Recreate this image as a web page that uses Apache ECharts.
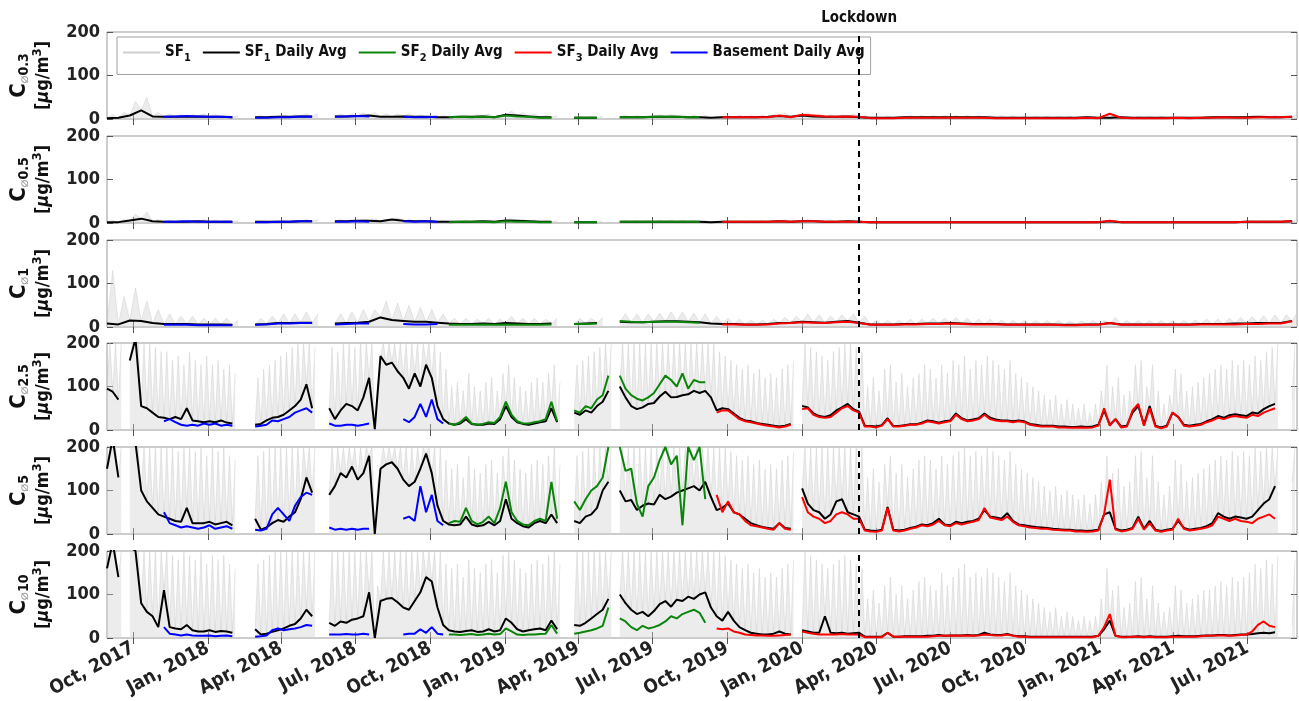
<!DOCTYPE html>
<html>
<head>
<meta charset="utf-8">
<script src="https://cdn.jsdelivr.net/npm/echarts@6/dist/echarts.min.js"></script>
<style>
  html, body { margin: 0; padding: 0; background: #fff; }
  #chart { width: 1299px; height: 701px; }
</style>
</head>
<body>
<div id="chart"></div>
<script>
const DAY = 864e5;
const START = Date.UTC(2017, 7, 30);
const X_MIN = Date.UTC(2017, 7, 30);
const X_MAX = Date.UTC(2021, 7, 31);
const LOCKDOWN = Date.parse('2020-03-11');
const FONT = '"Liberation Sans Narrow", "DejaVu Sans Condensed", "Roboto Condensed", sans-serif';

const tickDates = ['2017-10-01', '2018-01-01', '2018-04-01', '2018-07-01', '2018-10-01',
  '2019-01-01', '2019-04-01', '2019-07-01', '2019-10-01', '2020-01-01', '2020-04-01',
  '2020-07-01', '2020-10-01', '2021-01-01', '2021-04-01', '2021-07-01'];
const tickLabels = ['Oct, 2017', 'Jan, 2018', 'Apr, 2018', 'Jul, 2018', 'Oct, 2018',
  'Jan, 2019', 'Apr, 2019', 'Jul, 2019', 'Oct, 2019', 'Jan, 2020', 'Apr, 2020',
  'Jul, 2020', 'Oct, 2020', 'Jan, 2021', 'Apr, 2021', 'Jul, 2021'];

const sizes = ['0.3', '0.5', '1', '2.5', '5', '10'];
const legendNames = ['SF1', 'SF1 Daily Avg', 'SF2 Daily Avg', 'SF3 Daily Avg', 'Basement Daily Avg'];

// ---- panels 1-3: one value every two weeks ----
// first index of each station (in steps)
const BI_FIRST = { black: 0, blue: 5, green: 30, red: 54 };

const black03 = [
  2, 3, 8, 20, 6, 5, 5, 5, 6, 5,
  5, 4, null, 4, 4, 5, 5, 6, 6, null,
  6, 6, 7, 8, 5, 5, 6, 5, 5, 4,
  4, 5, 5, 6, 4, 10, 8, 6, 4, 4,
  null, 3, 3, 3, null, 4, 4, 4, 5, 5,
  5, 4, 4, 3, 4, 4, 4, 4, 5, 7,
  5, 8, 6, 5, 5, 6, 4, 3, 3, 3,
  4, 4, 4, 4, 4, 4, 4, 4, 3, 3,
  3, 3, 3, 3, 3, 3, 4, 3, 3, 4,
  3, 3, 3, 3, 3, 3, 3, 4, 4, 4,
  4, 5, 4, 4, 5];
const gray03 = [
  10, 15, 40, 50, 15, 12, 10, 10, 12, 10,
  10, 8, null, 8, 8, 10, 10, 12, 12, null,
  12, 12, 14, 15, 12, 12, 12, 10, 10, 8,
  8, 10, 10, 12, 8, 18, 15, 12, 8, 8,
  null, 6, 6, 6, null, 8, 8, 8, 10, 10,
  10, 8, 8, 6, 8, 8, 8, 8, 10, 14,
  10, 15, 12, 10, 10, 12, 8, 6, 6, 6,
  8, 8, 8, 8, 8, 8, 8, 8, 8, 8,
  6, 6, 6, 6, 6, 6, 6, 6, 6, 6,
  6, 6, 6, 6, 6, 6, 6, 6, 6, 6,
  8, 10, 8, 8, 10];
const blue03 = [5, 6, 7, 6, 5,
  5, 4, null, 3, 3, 4, 4, 6, 5, null,
  5, 6, 7, 6, null, null, 5, 4, 4, 5];
const green03 = [4, 5, 4, 6, 4, 8, 6, 5, 3, 3,
  null, 3, 3, 3, null, 4, 4, 4, 5, 5,
  5, 4, 4];
const red03 = [
  4, 4, 4, 4, 4, 8, 4, 10, 8, 6,
  5, 6, 5, 2, 2, 2, 3, 3, 3, 3,
  3, 3, 3, 3, 2, 2, 2, 2, 2, 2,
  2, 2, 3, 2, 12, 3, 2, 2, 2, 2,
  3, 2, 3, 3, 4, 3, 3, 4, 4, 4,
  5];

const black05 = [
  2, 2, 6, 10, 4, 3, 3, 3, 4, 3,
  3, 3, null, 3, 3, 3, 3, 4, 4, null,
  4, 4, 5, 5, 4, 8, 5, 4, 4, 3,
  3, 3, 3, 4, 3, 6, 5, 4, 3, 3,
  null, 2, 2, 2, null, 3, 3, 3, 3, 3,
  3, 3, 3, 2, 3, 3, 3, 3, 3, 4,
  3, 4, 4, 3, 3, 4, 3, 2, 2, 2,
  2, 2, 2, 2, 2, 2, 2, 2, 2, 2,
  2, 2, 2, 2, 2, 2, 2, 2, 4, 2,
  2, 2, 2, 2, 2, 2, 2, 2, 2, 2,
  3, 3, 3, 3, 4];
const gray05 = [
  6, 8, 20, 25, 8, 6, 6, 6, 8, 6,
  6, 5, null, 5, 5, 6, 6, 8, 8, null,
  8, 8, 9, 10, 8, 12, 8, 7, 7, 6,
  5, 6, 6, 7, 5, 10, 8, 7, 5, 5,
  null, 4, 4, 4, null, 5, 5, 5, 6, 6,
  6, 5, 5, 4, 5, 5, 5, 5, 6, 8,
  6, 8, 7, 6, 6, 7, 5, 4, 4, 4,
  4, 4, 4, 4, 4, 4, 4, 4, 4, 4,
  4, 4, 4, 4, 4, 4, 4, 4, 4, 4,
  4, 4, 4, 4, 4, 4, 4, 4, 4, 4,
  5, 5, 5, 5, 6];
const blue05 = [3, 3, 4, 3, 3,
  3, 3, null, 2, 2, 3, 3, 4, 4, null,
  3, 3, 4, 3, null, null, 4, 3, 4, 3];
const green05 = [2, 3, 3, 3, 2, 4, 3, 3, 2, 2,
  null, 2, 2, 2, null, 3, 3, 3, 3, 3,
  3, 3, 3];
const red05 = [
  3, 3, 3, 3, 3, 4, 3, 4, 4, 3,
  3, 3, 3, 2, 2, 2, 2, 2, 2, 2,
  2, 2, 2, 2, 2, 2, 2, 2, 2, 2,
  2, 2, 2, 2, 5, 2, 2, 2, 2, 2,
  2, 2, 2, 2, 2, 2, 3, 3, 3, 3,
  4];

const black1 = [
  8, 6, 15, 14, 9, 7, 7, 7, 6, 6,
  6, 5, null, 6, 7, 9, 9, 10, 10, null,
  8, 9, 10, 12, 22, 16, 14, 12, 12, 10,
  8, 7, 7, 8, 7, 9, 8, 7, 7, 8,
  null, 7, 8, 9, null, 12, 11, 11, 12, 13,
  13, 12, 11, 8, 7, 7, 6, 6, 7, 9,
  10, 12, 11, 10, 12, 14, 10, 6, 6, 6,
  7, 7, 8, 8, 9, 8, 7, 7, 7, 6,
  6, 6, 6, 6, 5, 5, 6, 6, 9, 6,
  6, 6, 6, 6, 6, 6, 7, 7, 7, 8,
  8, 9, 9, 9, 14];
const gray1 = [
  130, 70, 90, 60, 40, 30, 25, 25, 20, 20,
  20, 15, null, 20, 25, 30, 30, 35, 30, null,
  30, 35, 40, 40, 60, 55, 50, 45, 40, 30,
  20, 20, 18, 20, 18, 25, 20, 20, 18, 20,
  null, 20, 20, 22, null, 30, 30, 30, 32, 35,
  35, 32, 30, 25, 20, 18, 16, 16, 18, 22,
  25, 30, 28, 25, 28, 30, 25, 15, 15, 15,
  18, 18, 20, 20, 22, 20, 18, 18, 16, 15,
  15, 15, 15, 15, 14, 14, 15, 15, 22, 15,
  15, 15, 15, 15, 15, 16, 18, 18, 20, 22,
  24, 26, 28, 28, 35];
const blue1 = [5, 5, 5, 4, 4,
  4, 4, null, 5, 6, 8, 8, 9, 9, null,
  6, 7, 8, 8, null, null, 7, 6, 6, 7];
const green1 = [5, 5, 5, 6, 5, 6, 5, 5, 5, 6,
  null, 7, 7, 8, null, 14, 12, 11, 12, 12,
  12, 11, 10];
const red1 = [
  6, 6, 5, 5, 6, 8, 9, 11, 10, 9,
  11, 12, 9, 5, 5, 5, 6, 6, 7, 7,
  8, 7, 6, 6, 6, 5, 5, 5, 5, 5,
  4, 4, 5, 5, 9, 5, 5, 5, 5, 5,
  5, 5, 6, 6, 6, 6, 7, 7, 8, 8,
  13];

// ---- panels 4-6: one value per week ----
const WK_FIRST = { black: 0, blue: 10, green: 60, red: 107 };

const black25 = [
  95, 88, 70, null, 160, 210, 55, 50, 40, 30,
  28, 25, 30, 25, 50, 22, 20, 18, 20, 18,
  22, 17, 15, null, null, null, 12, 14, 22, 28,
  30, 35, 45, 55, 70, 105, 50, null, null, 50,
  25, 45, 60, 55, 45, 75, 120, 2, 170, 150,
  155, 135, 120, 95, 130, 100, 150, 120, 55, 25,
  15, 12, 15, 25, 14, 12, 12, 15, 14, 25,
  55, 30, 18, 14, 12, 15, 18, 20, 50, 18,
  null, null, 40, 35, 45, 40, 55, 65, 90, null,
  100, 75, 55, 48, 52, 60, 62, 77, 88, 75,
  76, 80, 82, 90, 85, 90, 75, 45, 50, 48,
  38, 28, 22, 20, 16, 14, 12, 10, 8, 10,
  14, null, 55, 52, 38, 32, 30, 34, 45, 52,
  60, 48, 42, 10, 9, 8, 11, 27, 9, 9,
  11, 13, 13, 17, 22, 20, 17, 20, 22, 38,
  27, 22, 24, 27, 38, 28, 24, 22, 22, 20,
  22, 20, 14, 12, 10, 10, 10, 8, 8, 7,
  7, 8, 7, 8, 12, 45, 12, 25, 8, 10,
  40, 55, 12, 55, 10, 6, 10, 40, 30, 12,
  10, 12, 14, 20, 25, 32, 28, 34, 36, 34,
  32, 40, 38, 48, 55, 60, null, null, 70];
const gray25 = [
  200, 200, 200, null, 200, 200, 200, 200, 190, 180,
  180, 160, 170, 150, 180, 160, 150, 170, 150, 160,
  140, 150, 130, null, null, null, 120, 140, 150, 160,
  170, 180, 190, 200, 200, 200, 190, null, null, 190,
  180, 200, 200, 190, 200, 200, 200, 100, 200, 200,
  200, 200, 200, 200, 200, 200, 200, 200, 180, 140,
  100, 110, 90, 130, 100, 90, 110, 120, 90, 130,
  150, 120, 100, 90, 110, 120, 110, 130, 150, 110,
  null, null, 150, 160, 170, 180, 190, 200, 200, null,
  200, 200, 200, 200, 200, 200, 200, 200, 200, 200,
  200, 200, 200, 200, 200, 200, 200, 180, 170, 160,
  150, 140, 150, 130, 140, 120, 130, 120, 140, 150,
  160, null, 200, 190, 180, 170, 160, 180, 190, 200,
  200, 190, 180, 100, 120, 90, 140, 150, 110, 130,
  100, 120, 130, 150, 140, 120, 150, 130, 160, 150,
  170, 140, 160, 150, 170, 160, 150, 140, 160, 130,
  120, 110, 100, 90, 80, 70, 80, 60, 70, 60,
  50, 60, 40, 60, 90, 150, 100, 120, 80, 90,
  150, 160, 100, 150, 90, 60, 80, 140, 130, 90,
  100, 110, 120, 130, 140, 150, 140, 160, 150, 160,
  150, 170, 160, 180, 190, 200, null, null, 200];
const blue25 = [
  20, 25, 18, 12, 10, 12, 10, 15, 12, 15,
  10, 12, 10, null, null, null, 8, 10, 12, 22,
  20, 25, 30, 40, 45, 50, 40, null, null, 15,
  10, 10, 12, 12, 10, 12, 15, null, null, null,
  null, null, 25, 18, 30, 60, 30, 70, 25, 15];
const green25 = [
  15, 12, 18, 30, 15, 12, 14, 18, 16, 30,
  65, 35, 20, 15, 15, 18, 20, 25, 65, 20,
  null, null, 45, 40, 55, 50, 70, 80, 125, null,
  125, 95, 80, 72, 68, 75, 85, 105, 125, 115,
  100, 130, 95, 115, 110, 110];
const red25 = [
  40, 45, 45, 35, 25, 20, 18, 15, 12, 10,
  8, 6, 8, 12, null, 48, 50, 35, 30, 28,
  30, 40, 50, 55, 45, 40, 8, 8, 6, 10,
  25, 8, 8, 10, 12, 12, 15, 20, 18, 15,
  18, 20, 35, 25, 20, 22, 25, 35, 25, 22,
  20, 20, 18, 20, 18, 12, 10, 8, 8, 8,
  6, 6, 5, 5, 6, 5, 6, 10, 50, 10,
  25, 6, 8, 45, 60, 10, 50, 8, 4, 8,
  40, 30, 10, 8, 10, 12, 18, 22, 28, 25,
  30, 32, 30, 28, 35, 32, 40, 45, 50, null,
  null, 80];

const black5 = [
  150, 220, 130, null, 220, 210, 100, 75, 60, 45,
  40, 35, 30, 28, 60, 25, 25, 25, 28, 22,
  25, 28, 20, null, null, null, 35, 10, 15, 25,
  32, 28, 40, 50, 80, 130, 95, null, null, 90,
  110, 140, 130, 155, 125, 140, 180, 0, 150, 160,
  165, 150, 125, 110, 120, 150, 185, 140, 65, 30,
  22, 20, 22, 40, 22, 18, 20, 28, 20, 30,
  80, 35, 25, 18, 15, 25, 30, 25, 45, 25,
  null, null, 30, 25, 40, 45, 60, 100, 120, null,
  100, 75, 78, 55, 65, 70, 68, 90, 80, 86,
  95, 100, 105, 110, 100, 120, 85, 55, 60, 70,
  50, 45, 35, 25, 20, 16, 14, 12, 25, 14,
  12, null, 105, 70, 55, 50, 35, 45, 75, 80,
  50, 45, 40, 10, 8, 7, 10, 62, 10, 8,
  10, 14, 17, 22, 20, 25, 35, 22, 20, 28,
  25, 28, 30, 35, 55, 40, 38, 35, 48, 30,
  22, 20, 18, 16, 15, 14, 12, 11, 10, 10,
  8, 8, 7, 8, 10, 45, 50, 12, 8, 10,
  14, 40, 12, 30, 10, 7, 10, 12, 30, 14,
  10, 12, 14, 18, 25, 48, 40, 35, 40, 38,
  35, 40, 55, 70, 80, 110, null, null, 120];
const gray5 = [
  200, 200, 200, null, 200, 200, 200, 200, 200, 200,
  200, 200, 190, 200, 200, 190, 200, 180, 200, 190,
  200, 180, 170, null, null, null, 180, 190, 200, 200,
  200, 200, 200, 200, 200, 200, 200, null, null, 200,
  200, 200, 200, 200, 200, 200, 200, 120, 200, 200,
  200, 200, 200, 200, 200, 200, 200, 200, 200, 170,
  150, 160, 130, 180, 150, 140, 160, 170, 140, 180,
  200, 170, 150, 140, 160, 170, 160, 180, 200, 160,
  null, null, 180, 190, 200, 200, 200, 200, 200, null,
  200, 200, 200, 200, 200, 200, 200, 200, 200, 200,
  200, 200, 200, 200, 200, 200, 200, 200, 200, 190,
  180, 170, 180, 160, 170, 150, 160, 150, 170, 180,
  190, null, 200, 200, 200, 200, 200, 200, 200, 200,
  200, 200, 200, 130, 150, 120, 160, 180, 140, 160,
  130, 150, 170, 180, 170, 150, 180, 160, 180, 190,
  200, 180, 190, 180, 200, 190, 180, 170, 190, 160,
  150, 140, 130, 120, 110, 100, 110, 90, 100, 90,
  80, 90, 70, 90, 120, 180, 140, 150, 110, 120,
  180, 190, 130, 180, 120, 90, 110, 170, 160, 120,
  130, 140, 150, 160, 170, 180, 170, 190, 180, 190,
  180, 200, 190, 200, 200, 200, null, null, 200];
const blue5 = [
  50, 25, 20, 15, 18, 15, 12, 15, 20, 12,
  15, 18, 12, null, null, null, 10, 8, 12, 45,
  60, 45, 30, 65, 85, 95, 90, null, null, 15,
  10, 12, 10, 12, 10, 12, 12, null, null, null,
  null, null, 35, 40, 30, 110, 50, 90, 30, 20];
const green5 = [
  25, 30, 28, 60, 30, 22, 28, 40, 25, 60,
  120, 50, 30, 22, 20, 30, 35, 30, 120, 35,
  null, null, 75, 55, 80, 100, 110, 130, 200, null,
  200, 145, 150, 70, 40, 110, 130, 170, 200, 160,
  180, 20, 200, 170, 200, 80];
const red5 = [
  90, 50, 75, 50, 45, 30, 20, 18, 15, 12,
  10, 25, 12, 10, null, 85, 50, 40, 35, 25,
  30, 45, 50, 45, 35, 35, 8, 6, 5, 8,
  60, 8, 6, 8, 12, 15, 20, 18, 22, 30,
  20, 18, 25, 22, 25, 28, 32, 60, 38, 35,
  32, 40, 28, 20, 18, 15, 14, 12, 12, 10,
  9, 8, 8, 6, 6, 5, 6, 8, 45, 125,
  10, 6, 8, 12, 35, 10, 25, 8, 5, 8,
  10, 35, 12, 8, 10, 12, 15, 20, 40, 35,
  30, 35, 30, 28, 25, 35, 40, 45, 35, null,
  null, 150];

const black10 = [
  160, 220, 140, null, 210, 200, 80, 60, 50, 25,
  110, 25, 22, 20, 30, 18, 15, 15, 18, 14,
  16, 15, 12, null, null, null, 20, 8, 10, 14,
  18, 22, 28, 32, 45, 65, 50, null, null, 35,
  28, 38, 35, 42, 45, 50, 105, 0, 85, 90,
  92, 82, 70, 65, 85, 105, 140, 130, 70, 30,
  18, 15, 14, 16, 18, 14, 15, 20, 15, 18,
  45, 35, 20, 15, 18, 20, 22, 18, 40, 20,
  null, null, 30, 28, 35, 45, 55, 65, 90, null,
  100, 80, 65, 55, 60, 50, 62, 78, 85, 72,
  88, 85, 95, 90, 100, 105, 70, 50, 40, 60,
  40, 25, 18, 12, 10, 8, 8, 10, 15, 10,
  8, null, 18, 15, 12, 12, 50, 12, 11, 12,
  10, 11, 12, 3, 3, 3, 3, 12, 3, 3,
  4, 4, 4, 4, 5, 5, 7, 5, 6, 6,
  6, 7, 6, 7, 12, 8, 7, 7, 9, 6,
  4, 4, 3, 3, 3, 3, 3, 3, 3, 3,
  3, 3, 3, 3, 5, 20, 40, 5, 3, 3,
  3, 4, 3, 4, 3, 3, 3, 4, 5, 4,
  4, 4, 5, 6, 6, 7, 7, 6, 7, 8,
  8, 9, 11, 12, 11, 13, null, null, 30];
const gray10 = [
  200, 200, 200, null, 200, 200, 200, 200, 200, 200,
  200, 190, 180, 200, 190, 180, 200, 170, 190, 180,
  190, 170, 160, null, null, null, 170, 180, 190, 200,
  200, 200, 200, 200, 200, 200, 200, null, null, 200,
  200, 200, 200, 200, 200, 200, 200, 120, 200, 200,
  200, 200, 200, 200, 200, 200, 200, 200, 200, 170,
  160, 170, 140, 180, 160, 150, 170, 180, 150, 190,
  200, 180, 160, 150, 170, 180, 170, 190, 200, 170,
  null, null, 200, 200, 200, 200, 200, 200, 200, null,
  200, 200, 200, 200, 200, 200, 200, 200, 200, 200,
  200, 200, 200, 200, 200, 200, 200, 200, 190, 180,
  170, 160, 170, 150, 160, 140, 150, 140, 160, 170,
  180, null, 200, 190, 180, 170, 160, 170, 180, 190,
  180, 170, 160, 90, 110, 80, 120, 140, 100, 120,
  90, 110, 130, 140, 120, 110, 150, 120, 140, 160,
  170, 140, 150, 140, 160, 150, 140, 130, 150, 120,
  110, 100, 90, 80, 70, 60, 70, 50, 60, 50,
  40, 50, 40, 50, 90, 160, 110, 120, 70, 80,
  130, 140, 90, 120, 80, 60, 70, 120, 110, 80,
  90, 100, 110, 110, 120, 130, 120, 140, 130, 140,
  150, 170, 160, 180, 170, 190, null, null, 180];
const blue10 = [
  25, 10, 8, 6, 8, 6, 5, 5, 6, 4,
  5, 6, 4, null, null, null, 3, 4, 6, 18,
  22, 18, 20, 22, 25, 30, 28, null, null, 8,
  8, 8, 9, 8, 8, 10, 8, null, null, null,
  null, null, 8, 10, 10, 20, 12, 25, 10, 8];
const green10 = [
  8, 8, 7, 8, 9, 7, 8, 10, 8, 9,
  22, 15, 8, 7, 8, 8, 9, 10, 30, 10,
  null, null, 10, 12, 15, 18, 22, 28, 70, null,
  45, 38, 25, 18, 28, 22, 25, 30, 38, 50,
  45, 55, 60, 65, 58, 35];
const red10 = [
  22, 20, 22, 15, 12, 8, 7, 6, 6, 5,
  5, 6, 7, 8, null, 15, 12, 10, 8, 8,
  8, 8, 9, 8, 8, 8, 2, 2, 2, 2,
  12, 3, 3, 3, 3, 3, 3, 3, 4, 5,
  5, 5, 6, 5, 6, 5, 6, 8, 7, 6,
  6, 8, 5, 3, 3, 2, 2, 2, 2, 2,
  2, 2, 2, 2, 2, 2, 2, 5, 25, 55,
  5, 2, 2, 3, 3, 2, 3, 2, 2, 2,
  3, 3, 3, 3, 3, 4, 5, 5, 6, 6,
  5, 6, 7, 8, 15, 30, 38, 28, 25, null,
  null, 30];

const panels = [
  { step: 14, first: BI_FIRST, gray: gray03, black: black03, blue: blue03, green: green03, red: red03 },
  { step: 14, first: BI_FIRST, gray: gray05, black: black05, blue: blue05, green: green05, red: red05 },
  { step: 14, first: BI_FIRST, gray: gray1, black: black1, blue: blue1, green: green1, red: red1 },
  { step: 7, first: WK_FIRST, gray: gray25, black: black25, blue: blue25, green: green25, red: red25 },
  { step: 7, first: WK_FIRST, gray: gray5, black: black5, blue: blue5, green: green5, red: red5 },
  { step: 7, first: WK_FIRST, gray: gray10, black: black10, blue: blue10, green: green10, red: red10 },
];

const COLORS = { gray: '#cfcfcf', black: '#000000', blue: '#0000ff', green: '#0a850a', red: '#ff0000' };
const GRID_TOPS = [32, 136, 240, 343, 447, 551];
const GRID_H = 87;

const tickValues = tickDates.map(d => Date.parse(d));

function toPoints(values, first, step) {
  return values.map((v, k) => [START + (first + k) * step * DAY, v]);
}

// raw SF1 trace: each step runs from the daily mean up to that period's peak reading
function rawTrace(peaks, base, step) {
  const out = [];
  peaks.forEach((v, k) => {
    const t = START + k * step * DAY;
    if (v == null || base[k] == null) { out.push([t, null]); return; }
    out.push([t, base[k]], [t + step * DAY / 2, v]);
  });
  return out;
}

const grids = [], xAxes = [], yAxes = [], series = [];

panels.forEach((p, i) => {
  const last = i === panels.length - 1;
  grids.push({ left: 107, width: 1190, top: GRID_TOPS[i], height: GRID_H,
    show: true, borderColor: '#9a9a9a', borderWidth: 1, containLabel: false, outerBoundsMode: 'none' });

  const xBase = { type: 'value', gridIndex: i, min: X_MIN, max: X_MAX,
    splitLine: { show: false }, axisLine: { show: false } };
  xAxes.push(Object.assign({}, xBase, {
    position: 'bottom',
    axisTick: { show: true, inside: true, length: 6, customValues: tickValues, lineStyle: { color: '#555' } },
    axisLabel: {
      show: last, customValues: tickValues, rotate: 28, margin: 9,
      fontFamily: FONT, fontWeight: 'bold', fontSize: 19, color: '#222',
      formatter: v => tickLabels[tickValues.indexOf(v)] || ''
    }
  }));
  xAxes.push(Object.assign({}, xBase, {
    position: 'top',
    axisTick: { show: true, inside: true, length: 6, customValues: tickValues, lineStyle: { color: '#555' } },
    axisLabel: { show: false }
  }));

  const yBase = { type: 'value', gridIndex: i, min: 0, max: 200, interval: 100,
    splitLine: { show: false }, axisLine: { show: false } };
  yAxes.push(Object.assign({}, yBase, {
    position: 'left',
    axisTick: { show: true, inside: true, length: 6, lineStyle: { color: '#555' } },
    axisLabel: { margin: 7, fontFamily: FONT, fontWeight: 'bold', fontSize: 18, color: '#222' },
    name: '{c|C}{d|⌀}{s|' + sizes[i] + '}\n{u|[}{m|μ}{u|g/m}{p|3}{u|]}',
    nameLocation: 'middle', nameRotate: 90, nameGap: 50,
    nameTextStyle: {
      lineHeight: 24,
      rich: {
        c: { fontFamily: FONT, fontWeight: 'bold', fontSize: 22, color: '#111' },
        d: { fontFamily: 'DejaVu Sans', fontSize: 13, color: '#a0a0a0', padding: [10, 0, 0, 0] },
        s: { fontFamily: FONT, fontWeight: 'bold', fontSize: 14, color: '#111', padding: [10, 0, 0, 0] },
        u: { fontFamily: FONT, fontWeight: 'bold', fontSize: 18, color: '#111' },
        m: { fontFamily: FONT, fontWeight: 'bold', fontStyle: 'italic', fontSize: 18, color: '#111' },
        p: { fontFamily: FONT, fontWeight: 'bold', fontSize: 13, color: '#111', padding: [0, 0, 12, 0] }
      }
    }
  }));
  yAxes.push(Object.assign({}, yBase, {
    position: 'right',
    axisTick: { show: true, inside: true, length: 6, lineStyle: { color: '#555' } },
    axisLabel: { show: false }
  }));

  const common = { type: 'line', xAxisIndex: 2 * i, yAxisIndex: 2 * i, symbol: 'none',
    showSymbol: false, connectNulls: false, animation: false, clip: true };

  series.push(Object.assign({}, common, {
    name: 'SF1', color: COLORS.gray,
    lineStyle: { width: 0.7, color: '#c4c4c4', opacity: 0.55 },
    areaStyle: { color: '#d0d0d0', opacity: 0.4 },
    data: rawTrace(p.gray, p.black, p.step)
  }));
  series.push(Object.assign({}, common, {
    name: 'SF1 Daily Avg', color: COLORS.black,
    lineStyle: { width: 2, color: COLORS.black },
    data: toPoints(p.black, p.first.black, p.step),
    markLine: {
      silent: true, symbol: 'none', animation: false,
      lineStyle: { color: '#000', type: [6, 5], width: 2 },
      label: {
        show: i === 0, position: 'end', formatter: 'Lockdown', distance: 6,
        fontFamily: FONT, fontWeight: 'bold', fontSize: 15, color: '#111'
      },
      data: [{ xAxis: LOCKDOWN }]
    }
  }));
  series.push(Object.assign({}, common, {
    name: 'Basement Daily Avg', color: COLORS.blue,
    lineStyle: { width: 2, color: COLORS.blue },
    data: toPoints(p.blue, p.first.blue, p.step)
  }));
  series.push(Object.assign({}, common, {
    name: 'SF2 Daily Avg', color: COLORS.green,
    lineStyle: { width: 2, color: COLORS.green },
    data: toPoints(p.green, p.first.green, p.step)
  }));
  series.push(Object.assign({}, common, {
    name: 'SF3 Daily Avg', color: COLORS.red,
    lineStyle: { width: 2, color: COLORS.red },
    data: toPoints(p.red, p.first.red, p.step)
  }));
});

const chart = echarts.init(document.getElementById('chart'), null, { renderer: 'canvas' });
chart.setOption({
  animation: false,
  backgroundColor: '#fff',
  grid: grids,
  xAxis: xAxes,
  yAxis: yAxes,
  legend: {
    left: 117, top: 37, orient: 'horizontal',
    icon: 'rect', itemWidth: 37, itemHeight: 2, itemGap: 12,
    padding: [8, 6, 11, 6],
    backgroundColor: '#fff', borderColor: '#a0a0a0', borderWidth: 1,
    data: legendNames,
    formatter: name => {
      const m = name.match(/^SF(\d)(.*)$/);
      return m ? '{t|SF}{s|' + m[1] + '}{t|' + m[2] + '}' : '{t|' + name + '}';
    },
    textStyle: {
      rich: {
        t: { fontFamily: FONT, fontWeight: 'bold', fontSize: 15, color: '#111' },
        s: { fontFamily: FONT, fontWeight: 'bold', fontSize: 11, color: '#111', padding: [11, 0, 0, 0] }
      }
    }
  },
  series: series
});
</script>
</body>
</html>
